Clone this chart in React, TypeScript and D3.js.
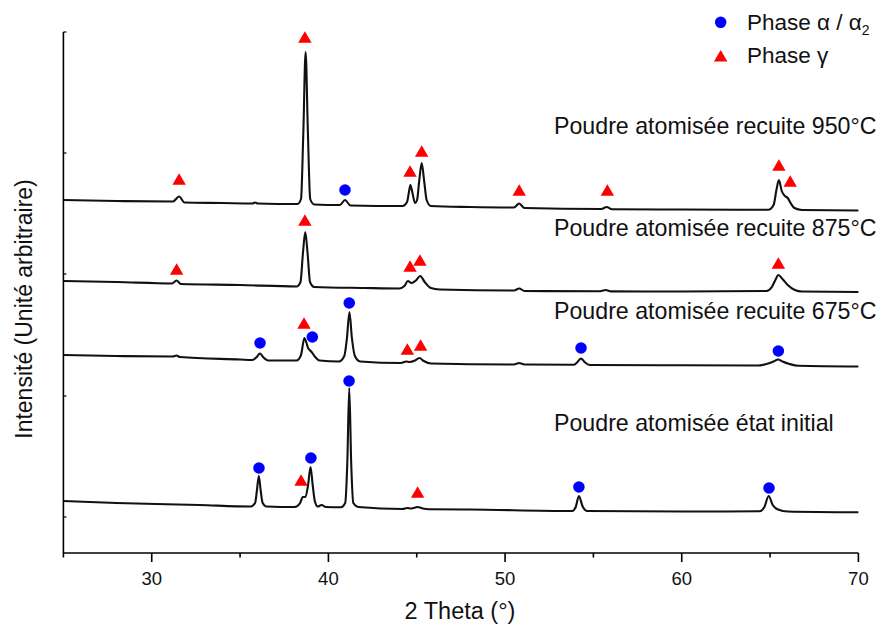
import React from 'react';
import * as d3 from 'd3';

// ---------- data ----------
const xMajorTicks = [30, 40, 50, 60, 70];
const xMinorTicks = [25, 35, 45, 55, 65];
const yTicks = [36, 157, 279, 400, 521];

const curveLabels = [
  'Poudre atomisée recuite 950°C',
  'Poudre atomisée recuite 875°C',
  'Poudre atomisée recuite 675°C',
  'Poudre atomisée état initial',
];

const curve950: [number, number][] = [
  [25, 353], [28, 352], [31.2, 351.5], [31.55, 356.5], [31.85, 350.5], [34, 350], [35.7, 349.5], [35.85, 350.5], [36.0, 349.5],
  [38.25, 349], [38.45, 354], [38.58, 420], [38.71, 501], [38.84, 420], [38.97, 354], [39.2, 348.5],
  [40.65, 348], [40.94, 353], [41.25, 347.5],
  [44.2, 347], [44.45, 351], [44.55, 360], [44.64, 368], [44.76, 360], [44.9, 350], [45.02, 353], [45.14, 372], [45.28, 390], [45.42, 372], [45.56, 353], [45.8, 347],
  [48, 346], [50.5, 345.5], [50.8, 349.5], [51.1, 345], [55.45, 344], [55.75, 346], [56.05, 343.8], [60, 343.5],
  [64.9, 343.2], [65.2, 348], [65.37, 364], [65.5, 373], [65.66, 362], [65.84, 357], [66.0, 355], [66.16, 350], [66.38, 345], [66.8, 343], [70, 342.5],
];

const curve875: [number, number][] = [
  [25, 272], [28, 271], [31.15, 269.5], [31.4, 272.5], [31.65, 269], [35, 268],
  [38.2, 266.5], [38.42, 271], [38.56, 300], [38.69, 321], [38.82, 300], [38.96, 271], [39.2, 266], [42, 265],
  [44.0, 264.5], [44.3, 267], [44.5, 272], [44.7, 270], [44.95, 272.5], [45.2, 277], [45.45, 271], [45.8, 265], [46.3, 263.5],
  [50.5, 262.5], [50.8, 264.5], [51.1, 262], [55.4, 261.8], [55.7, 263], [56.0, 261.6], [60, 261.5],
  [64.8, 262], [65.1, 266], [65.3, 273], [65.47, 278], [65.7, 274], [66.0, 268], [66.4, 263], [66.8, 261.5], [70, 261],
];

const curve675: [number, number][] = [
  [25, 198], [28, 197], [31.2, 196.5], [31.4, 197.5], [31.6, 196], [35, 193.5],
  [35.7, 193], [35.95, 196], [36.12, 199.5], [36.3, 196], [36.6, 192.5],
  [38.2, 192.5], [38.45, 198], [38.64, 215], [38.85, 205], [39.05, 201], [39.25, 196], [39.5, 192.5],
  [40.6, 191.5], [40.9, 197], [41.05, 215], [41.19, 241], [41.33, 215], [41.5, 197], [41.8, 191.5],
  [44.1, 190], [44.4, 191.5], [44.6, 191], [44.9, 192.5], [45.15, 195], [45.4, 192], [45.8, 189.5],
  [50.5, 188.5], [50.8, 190], [51.1, 188.5], [53.9, 188.3], [54.1, 191], [54.3, 194.5], [54.5, 191], [54.8, 188], [60, 187.7],
  [64.3, 187.5], [64.8, 189], [65.2, 191.5], [65.45, 193.5], [65.7, 191.5], [66.1, 189], [66.6, 187.2], [70, 186.5],
];

const curveInitial: [number, number][] = [
  [25, 52], [28, 50], [32.7, 48], [35.6, 46.5], [35.85, 50], [35.95, 62], [36.06, 77], [36.17, 62], [36.28, 50], [36.5, 46.5],
  [38.1, 46], [38.4, 50], [38.55, 56], [38.7, 56], [38.85, 68], [38.99, 86], [39.11, 68], [39.23, 52], [39.4, 46.5], [39.62, 48], [39.85, 46],
  [40.7, 45.7], [40.95, 50], [41.07, 90], [41.18, 165], [41.29, 90], [41.41, 50], [41.7, 46],
  [44.2, 44], [44.45, 45], [44.7, 44.5], [45.05, 46], [45.35, 44.5], [45.7, 43.8], [48, 43.5],
  [53.8, 42], [54.0, 46], [54.18, 57], [54.38, 47], [54.65, 42], [60, 41.5],
  [64.4, 41.7], [64.68, 46], [64.92, 57], [65.15, 48], [65.45, 43.5], [66.0, 41.5], [70, 40.7],
];

// phase markers: [2theta, intensity]
const alphaMarkers: [number, number][] = [
  [40.94, 363],
  [36.13, 210], [39.09, 216], [41.18, 250], [54.3, 205], [65.47, 202],
  [36.07, 85], [39.01, 95], [41.17, 172], [54.18, 66], [64.94, 65],
];
const gammaMarkers: [number, number][] = [
  [31.55, 372], [38.67, 514], [44.62, 380], [45.28, 400], [50.8, 361], [55.79, 361], [65.5, 386], [66.14, 370],
  [31.41, 282], [38.67, 331], [44.62, 285], [45.18, 291], [65.47, 288],
  [38.62, 228], [44.47, 202], [45.22, 206],
  [38.45, 71], [45.05, 59],
];

// ---------- layout ----------
const W = 883, H = 627;
const FONT = '"Liberation Sans", Arial, Helvetica, sans-serif';
const x = d3.scaleLinear().domain([25, 70]).range([63.4, 858.4]);
const y = d3.scaleLinear().domain([0, 521]).range([553, 32]);
const labelX = 554;
const labelBaselines = [134, 236, 319, 431];
const curves = [curve950, curve875, curve675, curveInitial];

const line = d3.line<[number, number]>()
  .x(d => x(d[0]))
  .y(d => y(d[1]))
  .curve(d3.curveMonotoneX);

const tri = d3.symbol(d3.symbolTriangle, 78)()!;
const circ = d3.symbol(d3.symbolCircle, 105)()!;

export default function App() {
  const y0 = y(0);
  return (
    <svg width={W} height={H} style={{ position: 'absolute', left: 0, top: 0, background: '#fff' }} fontFamily={FONT}>
      <rect width={W} height={H} fill="#fff" />
      {/* axes */}
      <line x1={x(25)} x2={x(70)} y1={y0} y2={y0} stroke="#000" strokeWidth={1.6} />
      <line x1={x(25)} x2={x(25)} y1={y(521)} y2={y0} stroke="#000" strokeWidth={1.6} />
      {xMajorTicks.map(t => (
        <g key={'M' + t}>
          <line x1={x(t)} x2={x(t)} y1={y0} y2={y0 + 9} stroke="#000" strokeWidth={1.6} />
          <text x={x(t)} y={585} fontSize={18.5} textAnchor="middle" fill="#111">{t}</text>
        </g>
      ))}
      {xMinorTicks.map(t => (
        <line key={'m' + t} x1={x(t)} x2={x(t)} y1={y0} y2={y0 + 4.5} stroke="#000" strokeWidth={1.6} />
      ))}
      {yTicks.map(t => (
        <line key={'y' + t} x1={x(25)} x2={x(25) + 3} y1={y(t)} y2={y(t)} stroke="#000" strokeWidth={1.2} />
      ))}
      <text x={460} y={619} fontSize={23.5} textAnchor="middle" fill="#111">2 Theta (°)</text>
      <text transform="translate(32,309) rotate(-90)" fontSize={23} textAnchor="middle" fill="#111">Intensité (Unité arbitraire)</text>

      {/* curves */}
      {curves.map((c, i) => (
        <path key={'c' + i} d={line(c)!} fill="none" stroke="#111" strokeWidth={2.1} strokeLinejoin="round" />
      ))}
      {curveLabels.map((l, i) => (
        <text key={'l' + i} x={labelX} y={labelBaselines[i]} fontSize={23.2} fill="#111">{l}</text>
      ))}

      {/* markers */}
      {alphaMarkers.map((m, i) => (
        <path key={'a' + i} d={circ} transform={`translate(${x(m[0])},${y(m[1])})`} fill="#0000ff" />
      ))}
      {gammaMarkers.map((m, i) => (
        <path key={'g' + i} d={tri} transform={`translate(${x(m[0])},${y(m[1])})`} fill="#ff0000" />
      ))}

      {/* legend */}
      <path d={circ} transform="translate(720.7,22.3)" fill="#0000ff" />
      <text x={747} y={30} fontSize={22.5} fill="#111">Phase α / α<tspan fontSize={14} dy={5}>2</tspan></text>
      <path d={tri} transform="translate(720.7,57.7)" fill="#ff0000" />
      <text x={747} y={63} fontSize={22.5} fill="#111">Phase γ</text>
    </svg>
  );
}
